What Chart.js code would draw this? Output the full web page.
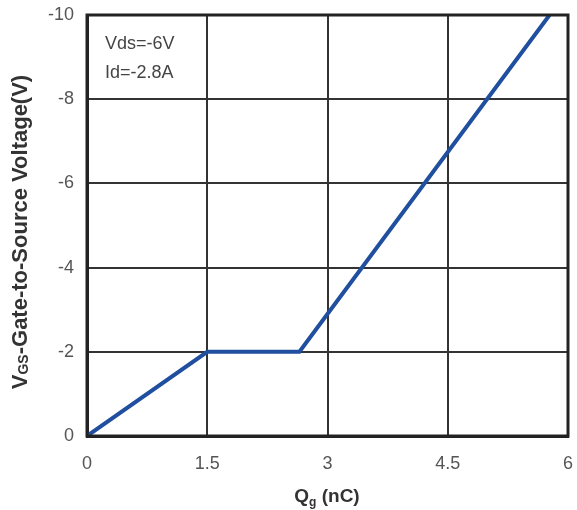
<!DOCTYPE html>
<html>
<head>
<meta charset="utf-8">
<script src="https://cdn.jsdelivr.net/npm/chart.js@4"></script>
<style>
  body { margin: 0; background: #fff; }
  #wrap { width: 577px; height: 510px; }
</style>
</head>
<body>
<div id="wrap"><canvas id="c"></canvas></div>
<script>
// gate charge curve
const qg = [0, 1.5, 2.65, 5.77];
const vgs = [0, -2, -2, -10];
const xTicks = [0, 1.5, 3, 4.5, 6];
const yTicks = [0, -2, -4, -6, -8, -10];
const noteLines = ['Vds=-6V', 'Id=-2.8A'];

const FONT = '"Liberation Sans", Arial';

// titles with subscripts, drawn by hand
const titles = {
  id: 'titles',
  afterDraw(chart) {
    const ctx = chart.ctx;
    const area = chart.chartArea;
    ctx.save();
    ctx.fillStyle = '#333';
    ctx.textBaseline = 'alphabetic';

    // x title: Qg (nC)
    let big = 'bold 19px ' + FONT;
    let small = 'bold 12px ' + FONT;
    ctx.font = big;
    const wQ = ctx.measureText('Q').width;
    const wRest = ctx.measureText(' (nC)').width;
    ctx.font = small;
    const wg = ctx.measureText('g').width;
    let x = 327 - (wQ + wg + wRest) / 2;
    const y = 502;
    ctx.font = big; ctx.fillText('Q', x, y); x += wQ;
    ctx.font = small; ctx.fillText('g', x, y + 4); x += wg;
    ctx.font = big; ctx.fillText(' (nC)', x, y);

    // y title: VGS-Gate-to-Source Voltage(V)
    big = 'bold 22px ' + FONT;
    small = 'bold 14px ' + FONT;
    ctx.translate(27, 232);
    ctx.rotate(-Math.PI / 2);
    ctx.font = big;
    const wV = ctx.measureText('V').width;
    const tail = '-Gate-to-Source Voltage(V)';
    const wTail = ctx.measureText(tail).width;
    ctx.font = small;
    const wGS = ctx.measureText('GS').width;
    let px = -(wV + wGS + wTail) / 2;
    ctx.font = big; ctx.fillText('V', px, 0); px += wV;
    ctx.font = small; ctx.fillText('GS', px, 1); px += wGS;
    ctx.font = big; ctx.fillText(tail, px, 0);
    ctx.restore();

    // test conditions note
    ctx.save();
    ctx.fillStyle = '#444';
    ctx.font = '18px ' + FONT;
    ctx.textBaseline = 'middle';
    noteLines.forEach((t, i) => ctx.fillText(t, area.left + 18, area.top + 29 + i * 29));
    ctx.restore();
  }
};

new Chart(document.getElementById('c'), {
  type: 'line',
  data: {
    datasets: [{
      data: qg.map((q, i) => ({ x: q, y: vgs[i] })),
      borderColor: '#1f4f9e',
      borderWidth: 4,
      pointRadius: 0,
      tension: 0,
      fill: false
    }]
  },
  options: {
    responsive: true,
    maintainAspectRatio: false,
    animation: false,
    layout: { padding: { top: 15, right: 9, left: 0, bottom: 0 } },
    plugins: { legend: { display: false }, tooltip: { enabled: false } },
    scales: {
      x: {
        type: 'linear',
        min: 0,
        max: 6,
        afterBuildTicks: s => { s.ticks = xTicks.map(v => ({ value: v })); },
        afterFit: s => { s.height = 74; s.paddingLeft = 0; s.paddingRight = 0; },
        grid: { color: '#333', lineWidth: 2, drawTicks: false },
        border: { color: '#222', width: 3 },
        ticks: {
          color: '#555',
          font: { family: FONT, size: 18 },
          padding: 17,
          maxRotation: 0
        }
      },
      y: {
        type: 'linear',
        min: -10,
        max: 0,
        reverse: true,
        afterBuildTicks: s => { s.ticks = yTicks.map(v => ({ value: v })); },
        afterFit: s => { s.width = 87; s.paddingTop = 0; s.paddingBottom = 0; },
        grid: { color: '#333', lineWidth: 2, drawTicks: false },
        border: { color: '#222', width: 3 },
        ticks: {
          color: '#555',
          font: { family: FONT, size: 18 },
          padding: 13
        }
      }
    }
  },
  plugins: [titles, {
    id: 'frame',
    afterDatasetsDraw(chart) {
      const { ctx, chartArea: a } = chart;
      ctx.save();
      ctx.strokeStyle = '#222';
      ctx.lineWidth = 3;
      ctx.strokeRect(a.left, a.top, a.right - a.left, a.bottom - a.top);
      ctx.restore();
    }
  }]
});
</script>
</body>
</html>
